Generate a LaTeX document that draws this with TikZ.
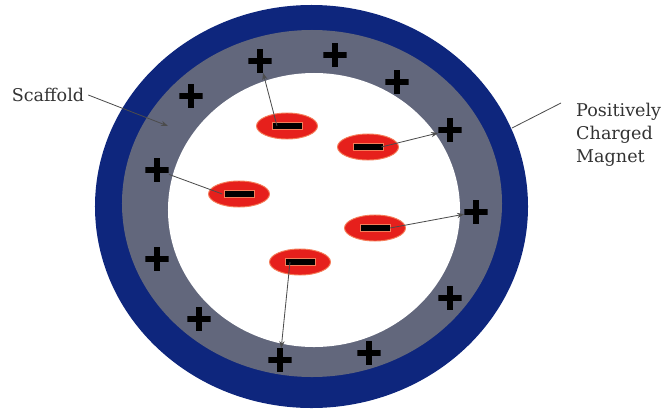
\documentclass[tikz,border=0pt]{standalone}
\usepackage{fontspec}
\setmainfont{DejaVu Serif}
\usetikzlibrary{arrows.meta,shapes.geometric}
\definecolor{magnetblue}{RGB}{14,38,125}
\definecolor{scaffoldgray}{RGB}{98,103,124}
\definecolor{chargered}{RGB}{230,32,28}
\definecolor{chargeedge}{RGB}{245,125,90}
\tikzset{
  poscharge/.style={minimum size=0.7cm,inner sep=0,
    path picture={
      \fill[black] ([xshift=-0.1cm]path picture bounding box.north) rectangle ([xshift=0.1cm]path picture bounding box.south);
      \fill[black] ([yshift=-0.1cm]path picture bounding box.west) rectangle ([yshift=0.1cm]path picture bounding box.east);}},
  negcharge/.style={ellipse,minimum width=1.83cm,minimum height=0.78cm,inner sep=0,
    fill=chargered,draw=chargeedge,line width=0.8pt,
    path picture={
      \filldraw[black,draw=chargeedge,line width=0.4pt] ([shift={(-0.45cm,-0.11cm)}]path picture bounding box.center) rectangle ([shift={(0.45cm,0.11cm)}]path picture bounding box.center);}},
  wire/.style={gray!60!black,line width=0.7pt},
  tip/.style={-{Stealth[length=6pt,width=4.5pt]}}
}

\begin{document}
\begin{tikzpicture}[x=0.03cm,y=-0.03cm,font=\fontsize{15}{19.6}\selectfont,text=black!80]
  \useasboundingbox (0,0) rectangle (667,412);
  % magnet ring, scaffold, inside
  \fill[magnetblue] (311.5,206.5) ellipse [x radius=6.495cm,y radius=6.045cm];
  \fill[scaffoldgray] (312,203.5) ellipse [x radius=5.7cm,y radius=5.205cm];
  \fill[white] (314,210) ellipse [x radius=4.38cm,y radius=4.11cm];
  % positive charges
  \foreach \n/\x/\y in {1/260/61,2/335/55,3/397/82,4/191/96,5/450/130,6/157/170,
                        7/476/212,8/157/259,9/450/298,10/199/319,11/369/353,12/280/360}
    \node[poscharge] (p\n) at (\x,\y) {};
  % negative charges
  \foreach \n/\x/\y in {1/287/126,2/368/147,3/239/194,4/375/228,5/300/262}
    \node[negcharge] (e\n) at (\x,\y) {};
  % labels
  \node (scaffold) at (48,95) {Scaffold};
  \node[align=left,anchor=north west,inner sep=0] (magnet) at (576,103) {Positively\\Charged\\Magnet};
  \coordinate (scaffoldtip) at (168,126);
  \coordinate (magnetedge) at (512,128);
  \draw[wire,tip] (scaffold.east) -- (scaffoldtip);
  \draw[wire] ([xshift=-0.45cm]magnet.north west) -- (magnetedge);
  % attraction
  \draw[wire,tip] ([xshift=-0.3cm]e1.center) -- (p1);
  \draw[wire,tip] ([xshift=0.4cm]e2.center) -- (p5);
  \draw[wire] ([xshift=-0.5cm]e3.center) -- (p6);
  \draw[wire,tip] ([xshift=0.45cm]e4.center) -- (p7);
  \draw[wire,tip] ([xshift=-0.3cm]e5.center) -- (p12);
\end{tikzpicture}
\end{document}
